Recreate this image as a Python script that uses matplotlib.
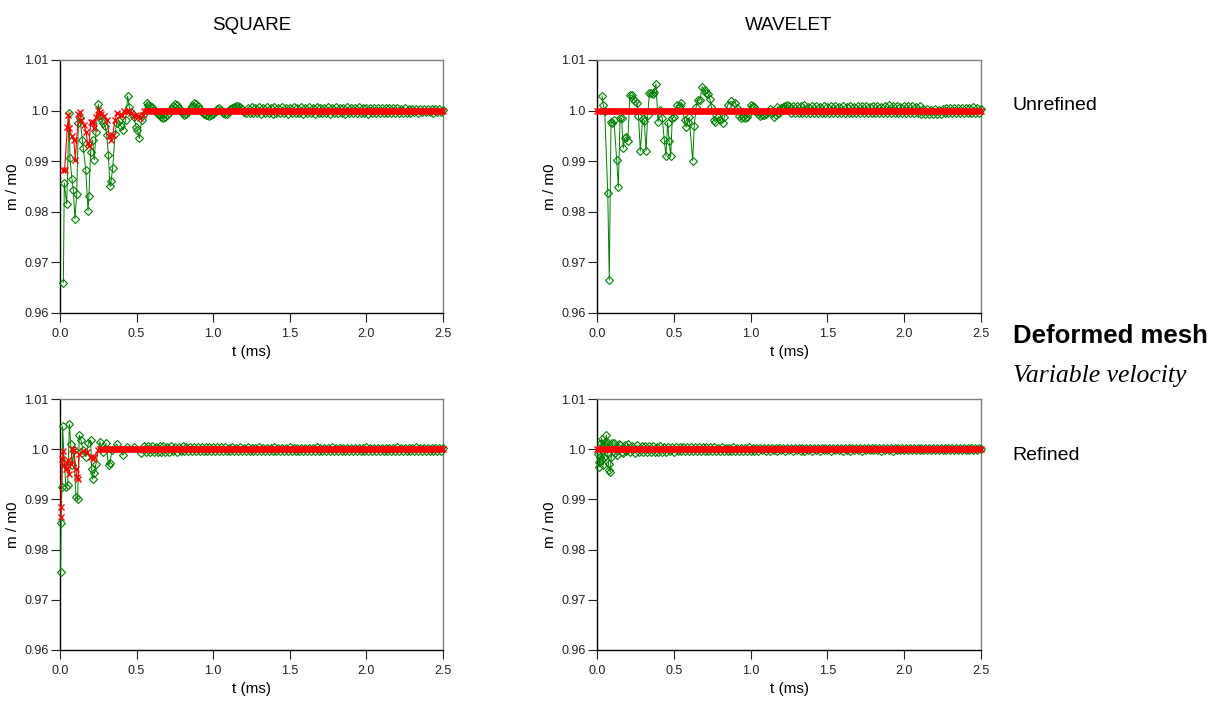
import numpy as np
import matplotlib
matplotlib.use("Agg")
import matplotlib.pyplot as plt
from matplotlib.ticker import FixedLocator, FixedFormatter

plt.rcParams['font.family'] = ['Liberation Sans', 'DejaVu Sans']

# ---------------- data ----------------
COLUMN_TITLES = ["SQUARE", "WAVELET"]
ROW_LABELS = ["Unrefined", "Refined"]
XTICKS = [0.0, 0.5, 1.0, 1.5, 2.0, 2.5]
XTICKLABELS = ["0.0", "0.5", "1.0", "1.5", "2.0", "2.5"]
YTICKS = [0.96, 0.97, 0.98, 0.99, 1.0, 1.01]
YTICKLABELS = ["0.96", "0.97", "0.98", "0.99", "1.0", "1.01"]
STEADY = 1.0          # value of the red series once it has settled
RED_STEP = 0.01       # output time step of the red series (ms)
TAIL_UNIT = 1e-4      # green tail values are given as deviations from 1.0 in units of 1e-4
TMAX = 2.5

# SQUARE / Unrefined
sq_un_green_t = [0.022, 0.028, 0.044, 0.059, 0.065, 0.078, 0.087, 0.098, 0.109, 0.120,
                 0.130, 0.146, 0.152, 0.168, 0.183, 0.189, 0.200, 0.213, 0.224, 0.235,
                 0.250, 0.261, 0.272, 0.283, 0.294, 0.305, 0.316, 0.326, 0.333, 0.344,
                 0.359, 0.370, 0.385, 0.398, 0.413, 0.428, 0.442, 0.452, 0.467, 0.483,
                 0.496, 0.505, 0.518, 0.533, 0.544, 0.566]
sq_un_green_v = [0.9660, 0.9857, 0.9815, 0.9996, 0.9906, 0.9864, 0.9843, 0.9786, 0.9835, 0.9975,
                 0.9985, 0.9942, 0.9926, 0.9883, 0.9802, 0.9832, 0.9919, 0.9942, 0.9903, 0.9958,
                 1.0013, 0.9992, 0.9982, 0.9975, 0.9970, 0.9952, 0.9912, 0.9850, 0.9860, 0.9886,
                 0.9953, 0.9975, 0.9980, 0.9969, 0.9962, 0.9981, 1.0029, 1.0008, 0.9995, 0.9988,
                 0.9968, 0.9962, 0.9945, 0.9981, 0.9991, 1.0015]
sq_un_green_tail_start = 0.575
sq_un_green_tail_dev = [
    12, 10, 7, 2, -3, -6, -9, -12, -14, -13, -9,
    -4, 3, 9, 13, 11, 6, 0, -5, -8, -6, -2, 4,
    10, 15, 13, 9, 3, -3, -6, -8, -9, -10, -9, -7,
    -3, 3, 5, 2, -4, -7, -6, -2, 3, 6, 8, 9,
    10, 8, 4, -2, -5, 6, -5, 7, -4, 6, -5, 7,
    -6, 6, -5, 7, -5, 6, -6, 7, -5, 6, -5, 7,
    -5, 6, -6, 6, -5, 7, -5, 6, -5, 7, -6, 6,
    -5, 7, -5, 6, -6, 7, -5, 6, -5, 6, -5, 7,
    -6, 6, -5, 7, -5, 6, -5, 6, -6, 7, -5, 6,
    -5, 6, -5, 7, -5, 6, -5, 6, -6, 6, -5, 6,
    -5, 5, -5, 6, -5, 5, -4, 5, -5, 5, -4, 5,
    -4, 4, -4, 5, -4, 4, -4, 4, -3, 4, -4, 4,
    -3, 4, -3, 4, -3, 3, -4, 3, -3, 3, -3, 2]
sq_un_red_t = [0.020, 0.030, 0.048, 0.055, 0.061, 0.076, 0.090, 0.100, 0.120, 0.130,
               0.140, 0.157, 0.170, 0.180, 0.190, 0.200, 0.213, 0.224, 0.235, 0.250,
               0.260, 0.270, 0.290, 0.305, 0.322, 0.333, 0.344, 0.359, 0.374, 0.390,
               0.405, 0.420, 0.435, 0.450, 0.465, 0.480, 0.495, 0.510, 0.525, 0.540]
sq_un_red_v = [0.9882, 0.9882, 0.9968, 0.9991, 0.9966, 0.9949, 0.9942, 0.9903, 0.9993, 0.9997,
               0.9981, 0.9971, 0.9958, 0.9935, 0.9930, 0.9978, 0.9978, 0.9966, 0.9987, 1.0001,
               0.9997, 0.9994, 0.9989, 0.9982, 0.9949, 0.9942, 0.9952, 0.9981, 0.9995, 0.9991,
               0.9991, 1.0000, 1.0000, 1.0000, 0.9995, 0.9990, 0.9992, 0.9989, 0.9985, 0.9992]
sq_un_red_steady_from = 0.55

# WAVELET / Unrefined
wv_un_green_t = [0.033, 0.041, 0.050, 0.070, 0.080, 0.091, 0.100, 0.110, 0.128, 0.139,
                 0.150, 0.160, 0.171, 0.180, 0.190, 0.200, 0.215, 0.228, 0.236, 0.250,
                 0.260, 0.270, 0.282, 0.297, 0.308, 0.319, 0.330, 0.341, 0.350, 0.362,
                 0.373, 0.384, 0.397, 0.410, 0.425, 0.438, 0.449, 0.460, 0.470, 0.480,
                 0.490, 0.500, 0.520, 0.540, 0.550, 0.570, 0.580, 0.590, 0.600, 0.623,
                 0.633, 0.645, 0.655, 0.670, 0.685, 0.700, 0.710, 0.725, 0.735, 0.745,
                 0.760, 0.770, 0.790, 0.800, 0.820, 0.830, 0.850, 0.870]
wv_un_green_v = [1.0029, 1.0011, 1.0000, 0.9837, 0.9665, 0.9978, 0.9975, 0.9982, 0.9903, 0.9849,
                 0.9985, 0.9985, 0.9926, 0.9945, 0.9948, 0.9939, 1.0031, 1.0030, 1.0023, 1.0019,
                 1.0016, 0.9990, 0.9920, 0.9984, 0.9980, 0.9920, 0.9991, 1.0034, 1.0034, 1.0033,
                 1.0037, 1.0053, 0.9978, 1.0001, 0.9985, 0.9942, 0.9910, 0.9976, 0.9939, 0.9910,
                 0.9985, 0.9987, 1.0011, 1.0009, 1.0015, 0.9981, 0.9967, 0.9978, 0.9987, 0.9901,
                 0.9969, 1.0007, 1.0020, 1.0021, 1.0047, 1.0041, 1.0035, 1.0033, 1.0022, 1.0007,
                 0.9982, 0.9978, 0.9988, 0.9981, 0.9975, 0.9988, 1.0011, 1.0018]
wv_un_green_tail_start = 0.900
wv_un_green_tail_dev = [
    16, 6, -10, -15, -13, -15, -12, -5, 12,
    10, 8, 0, -7, -10, -9, -8, -6, -3, 4, -5, -12,
    -8, 7, -5, 6, 8, 10, 11, 9, -5, 9, -4, 10,
    -5, 9, -4, 11, -5, 8, -4, 9, -5, 9, -5, 8,
    -4, 9, -5, 8, -5, 9, -4, 10, -5, 8, -4, 9,
    -5, 8, -5, 9, -4, 8, -5, 9, -5, 10, -4, 9,
    -5, 8, -4, 9, -5, 10, -5, 8, -4, 9, -5, 11,
    -5, 10, -4, 9, -5, 8, -5, 10, -4, 9, -5, 9,
    -5, 8, -4, 9,
    -6, 3, -7, 3, -6, 2, -7, 3, -6, 2, -6, 4,
    -5, 6, -5, 5, -4, 6, -5, 6, -4, 6, -5, 5,
    -4, 6, -5, 7, -4, 6, -5, 4]
wv_un_red_t = []
wv_un_red_v = []
wv_un_red_steady_from = 0.0

# SQUARE / Refined
sq_re_green_t = [0.004, 0.007, 0.013, 0.017, 0.028, 0.039, 0.050, 0.061, 0.070, 0.080,
                 0.090, 0.104, 0.115, 0.126, 0.137, 0.150, 0.170, 0.185, 0.200, 0.207,
                 0.213, 0.224, 0.235, 0.260, 0.280, 0.300, 0.317, 0.325, 0.340, 0.370,
                 0.410, 0.440, 0.480, 0.530]
sq_re_green_v = [0.9755, 0.9853, 0.9925, 1.0046, 0.9972, 0.9925, 0.9928, 1.0050, 1.0011, 0.9968,
                 0.9999, 0.9904, 0.9900, 1.0028, 1.0018, 0.9998, 0.9985, 1.0012, 1.0018, 0.9960,
                 0.9940, 0.9952, 0.9971, 1.0015, 0.9995, 1.0012, 0.9968, 0.9972, 0.9998, 1.0010,
                 0.9988, 1.0004, 1.0005, 0.9992]
sq_re_green_tail_start = 0.550
sq_re_green_tail_dev = [
    6, -5, 7, -6, 6, -5, 5, -6, 7, -5, 6, -5,
    5, -5, 6, -4, 5, -5, 5, -4, 6, -4, 5, -4,
    4, -4, 5, -4, 4, -4, 5, -3, 4, -4, 4, -3,
    4, -4, 4, -3, 4, -3, 4, -4, 3, -3, 4, -3,
    3, -3, 4, -3, 3, -3, 4, -3, 3, -3, 3, -3,
    4, -3, 3, -3, 3, -4, 3, -3, 4, -3, 3, -3,
    3, -3, 3, -3, 4, -3, 3, -3, 3, -3, 3, -4,
    3, -3, 3, -3, 3, -3, 4, -3, 3, -3, 3, -3,
    3, -3, 4, -3, 3, -3, 3, -3, 3, -4, 3, -3,
    3, -3, 3, -3, 3, -3, 3, -3, 4, -3, 3, -3,
    3, -3, 3, -4, 3, -3, 3, -3, 3, -3, 3, -3,
    4, -3, 3, -3, 3, -3, 3, -3, 3, -3, 4, -3,
    3, -3, 3, -3, 3, -3, 3, -3, 3, -3, 3, -3,
    2]
sq_re_red_t = [0.004, 0.007, 0.013, 0.020, 0.028, 0.039, 0.050, 0.060, 0.070, 0.080,
               0.090, 0.104, 0.110, 0.117, 0.126, 0.150, 0.175, 0.200, 0.213, 0.224, 0.250]
sq_re_red_v = [0.9865, 0.9885, 0.9981, 0.9997, 0.9969, 0.9960, 0.9978, 0.9950, 0.9970, 1.0000,
               0.9998, 0.9960, 0.9944, 0.9940, 0.9990, 0.9997, 0.9995, 0.9985, 0.9980, 0.9985, 0.9998]
sq_re_red_steady_from = 0.26

# WAVELET / Refined
wv_re_green_t = [0.005, 0.010, 0.015, 0.020, 0.025, 0.030, 0.035, 0.040, 0.045, 0.050,
                 0.055, 0.061, 0.065, 0.070, 0.075, 0.080, 0.087, 0.093, 0.100, 0.110,
                 0.120, 0.130, 0.140, 0.150, 0.160, 0.170, 0.180, 0.190, 0.200, 0.215,
                 0.230, 0.245, 0.260, 0.275, 0.290]
wv_re_green_v = [0.9990, 0.9975, 0.9965, 0.9985, 1.0012, 1.0021, 0.9978, 0.9968, 0.9985, 1.0008,
                 1.0015, 1.0028, 1.0015, 0.9990, 0.9970, 0.9958, 0.9955, 0.9985, 1.0013, 1.0012,
                 0.9992, 0.9988, 1.0010, 1.0008, 0.9995, 0.9993, 1.0009, 0.9996, 1.0011, 0.9994,
                 1.0007, 0.9993, 1.0008, 0.9994, 1.0006]
wv_re_green_tail_start = 0.300
wv_re_green_tail_dev = [
    -6, 7, -6, 6, -5, 6, -6, 5, -5, 6, -5, 5,
    -5, 5, -4, 5, -5, 5, -4, 5, -4, 4, -4, 5,
    -4, 4, -4, 4, -3, 4, -4, 4, -3, 4, -3, 4,
    -3, 4, -3, 3, -3, 4, -3, 3, -3, 3, -3, 4,
    -3, 3, -3, 3, -3, 3, -3, 4, -3, 3, -3, 3,
    -3, 3, -2, 3, -3, 3, -3, 3, -2, 3, -3, 3,
    -2, 3, -3, 3, -2, 3, -3, 3, -2, 3, -3, 3,
    -3, 3, -2, 3, -3, 3, -2, 3, -3, 3, -2, 3,
    -2, 3, -3, 3, -2, 3, -2, 3, -3, 3, -2, 3,
    -3, 3, -2, 3, -2, 3, -3, 3, -2, 3, -2, 3,
    -2, 3, -2, 3, -3, 3, -2, 3, -2, 3, -3, 3,
    -2, 3, -2, 3, -2, 3, -2, 3, -2, 3, -2, 3,
    -2, 3, -2, 2, -2, 3, -2, 3, -2, 2, -2, 3,
    -2, 2, -2, 3, -2, 2, -2, 3, -2, 2, -2, 3,
    -2, 2, -2, 2, -2, 3, -2, 2, 1]
wv_re_red_t = []
wv_re_red_v = []
wv_re_red_steady_from = 0.0

# ---------------- figure ----------------
W, H = 1219, 710
fig = plt.figure(figsize=(W / 100, H / 100), dpi=100)


def px_rect(left, top, right, bottom):
    return [left / W, 1 - bottom / H, (right - left) / W, (bottom - top) / H]


panels = [
    (px_rect(60, 60, 443, 313), sq_un_green_t, sq_un_green_v, sq_un_green_tail_start, sq_un_green_tail_dev,
     sq_un_red_t, sq_un_red_v, sq_un_red_steady_from),
    (px_rect(597, 60, 981, 313), wv_un_green_t, wv_un_green_v, wv_un_green_tail_start, wv_un_green_tail_dev,
     wv_un_red_t, wv_un_red_v, wv_un_red_steady_from),
    (px_rect(60, 399, 443, 650), sq_re_green_t, sq_re_green_v, sq_re_green_tail_start, sq_re_green_tail_dev,
     sq_re_red_t, sq_re_red_v, sq_re_red_steady_from),
    (px_rect(597, 399, 981, 650), wv_re_green_t, wv_re_green_v, wv_re_green_tail_start, wv_re_green_tail_dev,
     wv_re_red_t, wv_re_red_v, wv_re_red_steady_from),
]

GREEN = '#008000'
RED = '#ff0000'

for rect, gt, gv, gts, gdev, rt, rv, rsf in panels:
    ax = fig.add_axes(rect)
    g_tail_t = np.linspace(gts, TMAX, len(gdev))
    g_tail_v = 1.0 + np.asarray(gdev, dtype=float) * TAIL_UNIT
    g_t = np.concatenate([gt, g_tail_t])
    g_v = np.concatenate([gv, g_tail_v])
    r_steady_t = np.arange(rsf, TMAX + 1e-9, RED_STEP)
    r_t = np.concatenate([rt, r_steady_t])
    r_v = np.concatenate([rv, [STEADY] * len(r_steady_t)])

    ax.plot(g_t, g_v, color=GREEN, lw=0.7, marker='D', ms=4.5, mfc='none', mec=GREEN,
            mew=0.8, clip_on=False, zorder=3)
    ax.plot(r_t, r_v, color=RED, lw=0.8, marker='x', ms=4.2, mec=RED, mew=1.0,
            clip_on=False, zorder=4)

    ax.set_xlim(0, TMAX)
    ax.set_ylim(0.96, 1.01)
    ax.xaxis.set_major_locator(FixedLocator(XTICKS))
    ax.xaxis.set_major_formatter(FixedFormatter(XTICKLABELS))
    ax.yaxis.set_major_locator(FixedLocator(YTICKS))
    ax.yaxis.set_major_formatter(FixedFormatter(YTICKLABELS))
    for s in ['top', 'right']:
        ax.spines[s].set_color('#808080')
        ax.spines[s].set_linewidth(1.0)
    for s in ['left', 'bottom']:
        ax.spines[s].set_color('#000000')
        ax.spines[s].set_linewidth(1.0)
    ax.tick_params(axis='both', direction='out', length=6.5, width=0.8, labelsize=9, colors='#222222')
    ax.tick_params(axis='x', pad=4)
    ax.tick_params(axis='y', pad=1.5)
    ax.set_xlabel('t (ms)', fontsize=11, labelpad=4)
    ax.set_ylabel('m / m0', fontsize=11, labelpad=3)


def ftext(x, y, s, **kw):
    fig.text(x / W, 1 - y / H, s, **kw)


ftext(251.5, 25, COLUMN_TITLES[0], ha='center', va='center', fontsize=13.5)
ftext(789, 25, COLUMN_TITLES[1], ha='center', va='center', fontsize=13.5)
ftext(1012, 105, ROW_LABELS[0], ha='left', va='center', fontsize=14)
ftext(1012, 455, ROW_LABELS[1], ha='left', va='center', fontsize=14)
ftext(1013, 343, "Deformed mesh", ha='left', va='baseline', fontsize=18.5, fontweight='bold')
ftext(1013, 382, "Variable velocity", ha='left', va='baseline', fontsize=18.5,
      family=['Liberation Serif', 'DejaVu Serif'], style='italic')

fig.savefig('out.png', dpi=100)
